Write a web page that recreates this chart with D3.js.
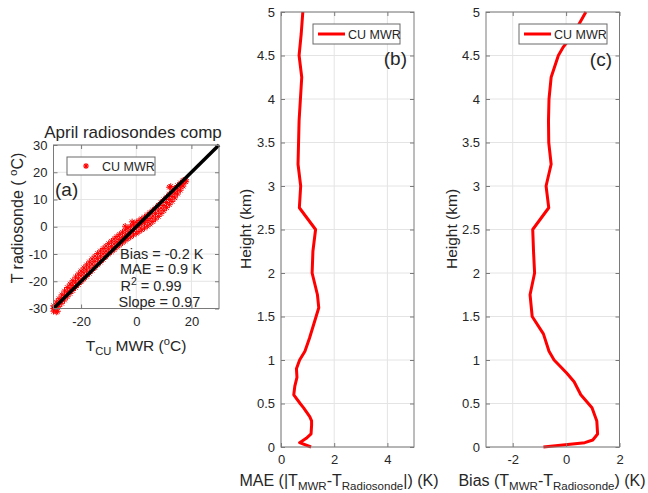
<!DOCTYPE html>
<html><head><meta charset="utf-8">
<script src="https://cdn.jsdelivr.net/npm/d3@7"></script>
<style>
body{margin:0;background:#fff}
text{font-family:"Liberation Sans",Arial,Helvetica,sans-serif;fill:#262626}
</style>
</head><body>
<svg id="chart" width="648" height="493"></svg>
<script>
// ---------- DATA ----------
// Panel (a): [T_CU MWR, T radiosonde] (deg C)
const scatterPoints = [
 [-30,-31],[-30,-30],[-30,-29],[-29,-30.2],[-29,-28.8],[-29,-27.6],
 [-28,-29.2],[-28,-27.7],[-28,-26.4],[-27,-28.1],[-27,-26.5],[-27,-25],
 [-26,-26.9],[-26,-25.2],[-26,-23.6],[-25,-25.7],[-25,-24],[-25,-22.3],
 [-24,-24.5],[-24,-22.8],[-24,-21],[-23,-23.4],[-23,-21.5],[-23,-19.8],
 [-22,-22.3],[-22,-20.3],[-22,-18.5],[-21,-21.2],[-21,-19.1],[-21,-17.3],
 [-20,-20.2],[-20,-18],[-20,-16.2],[-19,-19.2],[-19,-16.9],[-19,-15.1],
 [-18,-18.2],[-18,-15.9],[-18,-14],[-17,-17.1],[-17,-14.8],[-17,-12.9],
 [-16,-16],[-16,-13.7],[-16,-11.8],[-15,-15],[-15,-12.7],[-15,-10.8],
 [-14,-14],[-14,-11.7],[-14,-9.8],[-13,-13],[-13,-10.8],[-13,-8.9],
 [-12,-12],[-12,-9.9],[-12,-8],[-11,-11],[-11,-9],[-11,-7.1],
 [-10,-10],[-10,-8.1],[-10,-6.2],[-9,-9.2],[-9,-7.2],[-9,-5.3],
 [-8,-8.4],[-8,-6.3],[-8,-4.4],[-7,-7.5],[-7,-5.5],[-7,-3.6],
 [-6,-6.7],[-6,-4.7],[-6,-2.8],[-5,-5.9],[-5,-3.9],[-5,-2],
 [-4,-5.1],[-4,-3.1],[-4,-1.2],[-3,-4.4],[-3,-2.4],[-3,-0.5],
 [-2,-3.7],[-2,-1.7],[-2,0.2],[-1,-3],[-1,-1],[-1,0.9],
 [0,-2.4],[0,-0.3],[0,1.6],[1,-1.8],[1,0.3],[1,2.3],
 [2,-1.1],[2,1],[2,2.9],[3,-0.5],[3,1.6],[3,3.6],
 [4,0.2],[4,2.3],[4,4.4],[5,1],[5,3],[5,5.2],
 [6,1.9],[6,3.9],[6,6],[7,2.8],[7,4.8],[7,6.9],
 [8,3.8],[8,5.8],[8,7.9],[9,4.8],[9,6.8],[9,8.9],
 [10,5.9],[10,7.8],[10,9.9],[11,7],[11,8.9],[11,10.9],
 [12,8.1],[12,10],[12,12],[13,9.3],[13,11.1],[13,13],
 [14,10.6],[14,12.3],[14,14.1],[15,12],[15,13.5],[15,15.1],
 [16,13.4],[16,14.7],[16,16.1],[17,14.9],[17,15.9],[17,17],
 [18,16.5],[18,17.2],
 [12,14.5],[12.5,14.8],[-29,-31.3],[-28.5,-31],[-4,0.2],[-1.5,1.8]
];
const oneToOne = [[-30,-30],[30,30]];
const xTicksA = [-20,0,20];
const yTicksA = [-30,-20,-10,0,10,20,30];
const statsLines = ["Bias = -0.2 K","MAE = 0.9 K","R2 = 0.99","Slope = 0.97"];

// Panel (b): MAE profile
const heightsMAE = [0,0.05,0.1,0.15,0.25,0.3,0.35,0.45,0.5,0.6,0.7,0.8,0.9,1.0,1.1,1.25,1.5,1.6,1.75,2.0,2.25,2.5,2.75,3.0,3.25,3.5,3.75,4.0,4.25,4.5,4.75,5.0];
const maeValues  = [1.13,0.7,0.95,1.13,1.15,1.15,1.08,0.85,0.72,0.48,0.52,0.6,0.58,0.7,0.9,1.07,1.32,1.42,1.37,1.17,1.2,1.3,0.69,0.74,0.64,0.66,0.68,0.73,0.78,0.68,0.76,0.82];

// Panel (c): Bias profile
const heightsBias = [0,0.05,0.08,0.15,0.3,0.45,0.6,0.75,0.85,1.0,1.1,1.3,1.5,1.75,2.0,2.25,2.5,2.75,3.0,3.25,3.5,3.75,4.0,4.25,4.5,4.6,4.75,5.0];
const biasValues  = [-0.85,0.7,1.0,1.18,1.15,0.97,0.55,0.3,0.02,-0.45,-0.64,-0.85,-1.27,-1.35,-1.18,-1.22,-1.25,-0.65,-0.75,-0.56,-0.65,-0.66,-0.64,-0.56,-0.29,-0.1,0.28,0.74];

const heightTicks = [0,0.5,1,1.5,2,2.5,3,3.5,4,4.5,5];
const maeTicks = [0,2,4];
const biasTicks = [-2,0,2];
const legendLabel = "CU MWR";

// ---------- DRAWING ----------
const svg = d3.select("#chart");
const RED = "#ff0000";
const GRID = "#e4e4e4";
const AX = "#7a7a7a";

function grid(g, x, y, xt, yt){
  const [x0,x1] = x.range(), [y0,y1] = y.range();
  g.append("g").selectAll("line").data(xt).join("line")
    .attr("x1",d=>x(d)).attr("x2",d=>x(d)).attr("y1",y0).attr("y2",y1)
    .attr("stroke",GRID).attr("stroke-width",1);
  g.append("g").selectAll("line").data(yt).join("line")
    .attr("y1",d=>y(d)).attr("y2",d=>y(d)).attr("x1",x0).attr("x2",x1)
    .attr("stroke",GRID).attr("stroke-width",1);
}
function styleAxis(sel){
  sel.select(".domain").remove();
  sel.selectAll(".tick line").attr("stroke",AX);
  sel.selectAll(".tick text").attr("font-size",13).attr("fill","#262626")
     .style("font-family",'"Liberation Sans",Arial,sans-serif');
}
function frame(g, x, y, xt, yt){
  const [x0,x1] = x.range(), [y0,y1] = y.range();
  const fmt = d=>String(d);
  g.append("g").attr("transform",`translate(0,${y0})`)
    .call(d3.axisBottom(x).tickValues(xt).tickSize(-4).tickPadding(8).tickFormat(fmt)).call(styleAxis);
  g.append("g").attr("transform",`translate(0,${y1})`)
    .call(d3.axisTop(x).tickValues(xt).tickSize(-4).tickFormat("")).call(styleAxis);
  g.append("g").attr("transform",`translate(${x0},0)`)
    .call(d3.axisLeft(y).tickValues(yt).tickSize(-4).tickPadding(6).tickFormat(fmt)).call(styleAxis);
  g.append("g").attr("transform",`translate(${x1},0)`)
    .call(d3.axisRight(y).tickValues(yt).tickSize(-4).tickFormat("")).call(styleAxis);
  g.append("rect").attr("x",x0).attr("y",y1).attr("width",x1-x0).attr("height",y0-y1)
    .attr("fill","none").attr("stroke",AX).attr("stroke-width",1);
}
function asterisk(s){
  const d = s*0.7;
  return `M${-s},0L${s},0M0,${-s}L0,${s}M${-d},${-d}L${d},${d}M${-d},${d}L${d},${-d}`;
}
function richText(g, x, y, parts, size, anchor, rotate){
  const t = g.append("text").attr("font-size",size).attr("text-anchor",anchor||"start");
  if(rotate) t.attr("transform",`translate(${x},${y}) rotate(${rotate})`);
  else t.attr("x",x).attr("y",y);
  let shift = 0;
  parts.forEach(p=>{
    const ts = t.append("tspan").text(p.t);
    let target = p.sub ? 4 : p.sup ? -6 : 0;
    if(target!==shift){ ts.attr("dy",target-shift); shift = target; }
    if(p.sub||p.sup) ts.attr("font-size",size*0.72);
  });
  return t;
}

// ----- Panel (a) -----
const xA = d3.scaleLinear([-30,30],[53.5,219]);
const yA = d3.scaleLinear([-30,30],[308.5,145]);
const gA = svg.append("g");
grid(gA, xA, yA, xTicksA, yTicksA);
gA.append("g").selectAll("path").data(scatterPoints).join("path")
  .attr("transform",d=>`translate(${xA(d[0])},${yA(d[1])})`)
  .attr("d",asterisk(3.2)).attr("stroke",RED).attr("stroke-width",1).attr("fill","none");
gA.append("path").datum(oneToOne)
  .attr("d",d3.line().x(d=>xA(d[0])).y(d=>yA(d[1])))
  .attr("stroke","#000").attr("stroke-width",3.5).attr("fill","none");
frame(gA, xA, yA, xTicksA, yTicksA);
gA.append("text").attr("x",133).attr("y",138).attr("text-anchor","middle").attr("font-size",17)
  .text("April radiosondes comp");
richText(gA, 23, 218, [{t:"T radiosonde  ( "},{t:"o",sup:true},{t:"C)"}], 16, "middle", -90);
richText(gA, 136, 351, [{t:"T"},{t:"CU",sub:true},{t:" MWR ("},{t:"o",sup:true},{t:"C)"}], 15.5, "middle");
// legend (a)
gA.append("rect").attr("x",67).attr("y",157).attr("width",88).attr("height",18)
  .attr("fill","#fff").attr("stroke","#6a6a6a").attr("stroke-width",1);
gA.append("path").attr("transform","translate(86,166)").attr("d",asterisk(3))
  .attr("stroke",RED).attr("stroke-width",1.1);
gA.append("text").attr("x",102).attr("y",170.5).attr("font-size",12.5).text(legendLabel);
gA.append("text").attr("x",55).attr("y",196).attr("font-size",19).text("(a)");
// stats
const statY = [258.5,273.5,290.5,306.5];
const statX = [120,120,120.5,118.5];
richText(gA, statX[0], statY[0], [{t:statsLines[0]}], 14.5);
richText(gA, statX[1], statY[1], [{t:statsLines[1]}], 14.5);
richText(gA, statX[2], statY[2], [{t:"R"},{t:"2",sup:true},{t:statsLines[2].slice(2)}], 14.5);
richText(gA, statX[3], statY[3], [{t:statsLines[3]}], 14.5);

// ----- Panel (b) -----
const yH = d3.scaleLinear([0,5],[447,12]);
const xB = d3.scaleLinear([0,5],[281,414]);
const gB = svg.append("g");
grid(gB, xB, yH, maeTicks, heightTicks);
gB.append("path").datum(heightsMAE.map((h,i)=>[maeValues[i],h]))
  .attr("d",d3.line().x(d=>xB(d[0])).y(d=>yH(d[1])))
  .attr("stroke",RED).attr("stroke-width",3).attr("fill","none").attr("stroke-linejoin","round");
frame(gB, xB, yH, maeTicks, heightTicks);
richText(gB, 251, 229, [{t:"Height (km)"}], 15.5, "middle", -90);
richText(gB, 339, 486, [{t:"MAE (|T"},{t:"MWR",sub:true},{t:"-T"},{t:"Radiosonde",sub:true},{t:"|) (K)"}], 16, "middle");
gB.append("rect").attr("x",313).attr("y",24).attr("width",87).attr("height",20)
  .attr("fill","#fff").attr("stroke","#6a6a6a").attr("stroke-width",1);
gB.append("line").attr("x1",318).attr("x2",345).attr("y1",34).attr("y2",34).attr("stroke",RED).attr("stroke-width",3);
gB.append("text").attr("x",348).attr("y",38.5).attr("font-size",12.5).text(legendLabel);
gB.append("text").attr("x",407).attr("y",65).attr("text-anchor","end").attr("font-size",19).text("(b)");

// ----- Panel (c) -----
const xC = d3.scaleLinear([-3,2],[486,619.5]);
const gC = svg.append("g");
grid(gC, xC, yH, biasTicks, heightTicks);
gC.append("path").datum(heightsBias.map((h,i)=>[biasValues[i],h]))
  .attr("d",d3.line().x(d=>xC(d[0])).y(d=>yH(d[1])))
  .attr("stroke",RED).attr("stroke-width",3).attr("fill","none").attr("stroke-linejoin","round");
frame(gC, xC, yH, biasTicks, heightTicks);
richText(gC, 457, 229, [{t:"Height (km)"}], 15.5, "middle", -90);
richText(gC, 552, 486, [{t:"Bias (T"},{t:"MWR",sub:true},{t:"-T"},{t:"Radiosonde",sub:true},{t:") (K)"}], 16, "middle");
gC.append("rect").attr("x",519).attr("y",24).attr("width",88).attr("height",20)
  .attr("fill","#fff").attr("stroke","#6a6a6a").attr("stroke-width",1);
gC.append("line").attr("x1",524).attr("x2",551).attr("y1",34).attr("y2",34).attr("stroke",RED).attr("stroke-width",3);
gC.append("text").attr("x",554).attr("y",38.5).attr("font-size",12.5).text(legendLabel);
gC.append("text").attr("x",612).attr("y",66).attr("text-anchor","end").attr("font-size",19).text("(c)");
</script>
</body></html>
